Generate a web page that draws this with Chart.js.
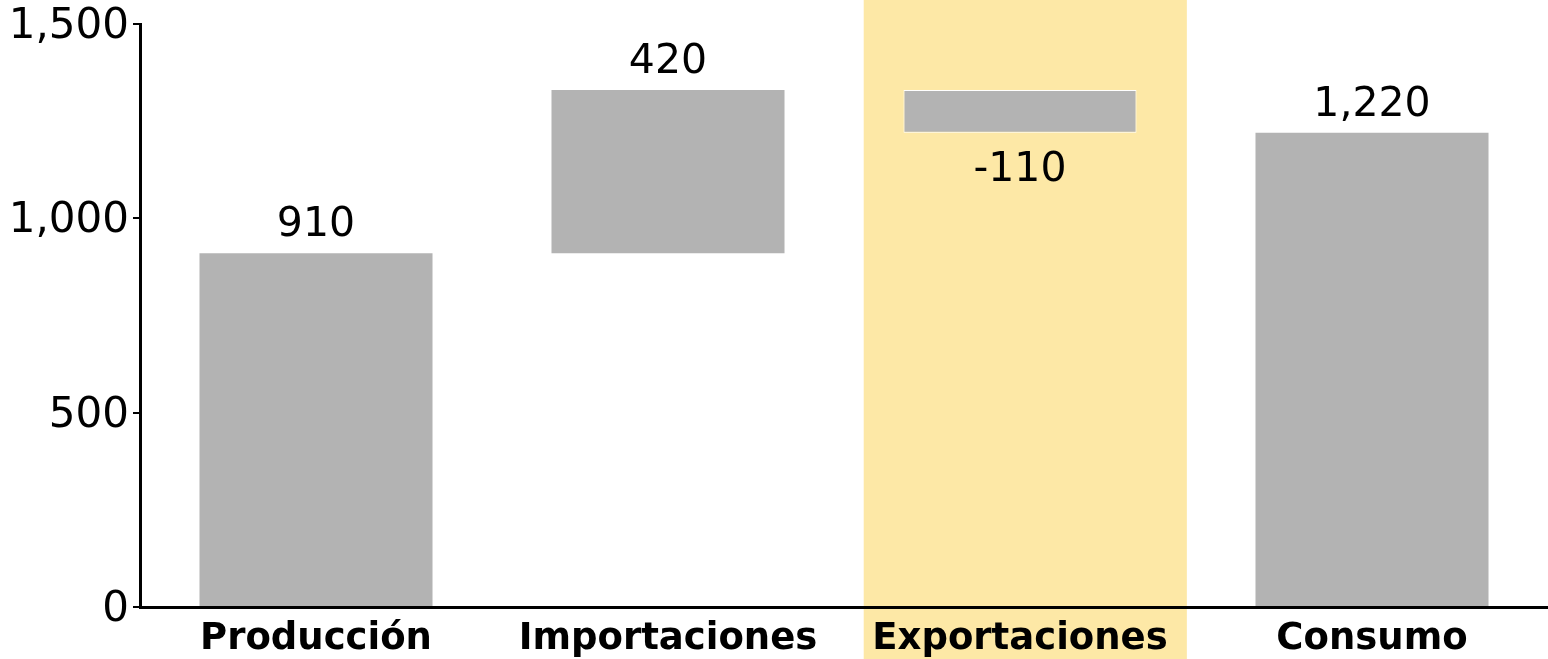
<!DOCTYPE html>
<html>
<head>
<meta charset="utf-8">
<script src="https://cdn.jsdelivr.net/npm/chart.js@4"></script>
<style>
  html, body { margin: 0; padding: 0; background: #fff; }
  #wrap { width: 1548px; height: 659px; }
</style>
</head>
<body>
<div id="wrap"><canvas id="chart"></canvas></div>
<script>
// waterfall: Producción + Importaciones - Exportaciones = Consumo
const categories = ['Producción', 'Importaciones', 'Exportaciones', 'Consumo'];
const changes = [910, 420, -110, 1220];
const isTotal = [false, false, false, true];
const highlightIndex = 2;
const yTicks = [0, 500, 1000, 1500];

const FONT = "'DejaVu Sans', Verdana, sans-serif";

// floating ranges from running sum
let running = 0;
const ranges = changes.map((v, i) => {
  if (isTotal[i]) { running = v; return [0, v]; }
  const r = [running, running + v];
  running += v;
  return r;
});

const fmt = n => n.toLocaleString('en-US');

// shaded band behind the highlighted category
const highlightPlugin = {
  id: 'highlight',
  beforeDraw(chart) {
    const x = chart.scales.x;
    const { ctx } = chart;
    const step = x.getPixelForValue(1) - x.getPixelForValue(0);
    const w = step * 0.918;
    const cx = x.getPixelForValue(highlightIndex) + step * 0.015;
    ctx.save();
    ctx.fillStyle = '#fde8a6';
    ctx.fillRect(cx - w / 2, 0, w, chart.height);
    ctx.restore();
  }
};

const labelPlugin = {
  id: 'barLabels',
  afterDatasetsDraw(chart) {
    const { ctx } = chart;
    const meta = chart.getDatasetMeta(0);
    ctx.save();
    ctx.font = '41px ' + FONT;
    ctx.fillStyle = '#000';
    ctx.textAlign = 'center';
    meta.data.forEach((bar, i) => {
      const v = changes[i];
      const top = Math.min(bar.y, bar.base);
      const bottom = Math.max(bar.y, bar.base);
      if (v >= 0) {
        ctx.textBaseline = 'bottom';
        ctx.fillText(fmt(v), bar.x, top - 7);
      } else {
        ctx.textBaseline = 'top';
        ctx.fillText(fmt(v), bar.x, bottom + 17);
      }
    });
    ctx.restore();
  }
};

new Chart(document.getElementById('chart'), {
  type: 'bar',
  data: {
    labels: categories,
    datasets: [{
      data: ranges,
      backgroundColor: '#b3b3b3',
      borderColor: changes.map(v => v < 0 ? '#ffffff' : 'rgba(0,0,0,0)'),
      borderWidth: changes.map(v => v < 0 ? 1 : 0),
      borderSkipped: false,
      categoryPercentage: 1,
      barPercentage: 0.662
    }]
  },
  options: {
    responsive: true,
    maintainAspectRatio: false,
    animation: false,
    layout: { padding: 0 },
    plugins: {
      legend: { display: false },
      tooltip: { enabled: false }
    },
    scales: {
      x: {
        grid: { display: false, drawTicks: false },
        border: { display: true, color: '#000', width: 3 },
        ticks: {
          color: '#000',
          font: { family: FONT, size: 37, weight: 'bold' },
          padding: 10,
          maxRotation: 0
        },
        afterFit(scale) { scale.height = 52; }
      },
      y: {
        min: 0,
        max: 1500,
        afterBuildTicks(scale) { scale.ticks = yTicks.map(v => ({ value: v })); },
        grid: { display: true, drawOnChartArea: false, drawTicks: true, tickLength: 7, color: '#000', lineWidth: 2 },
        border: { display: true, color: '#000', width: 3 },
        ticks: {
          color: '#000',
          font: { family: FONT, size: 42 },
          padding: 4,
          labelOffset: 3,
          callback: v => fmt(v)
        },
        afterFit(scale) {
          scale.width = 140;
          scale.paddingTop = 24;
          scale.paddingBottom = 0;
        }
      }
    }
  },
  plugins: [highlightPlugin, labelPlugin]
});
</script>
</body>
</html>
